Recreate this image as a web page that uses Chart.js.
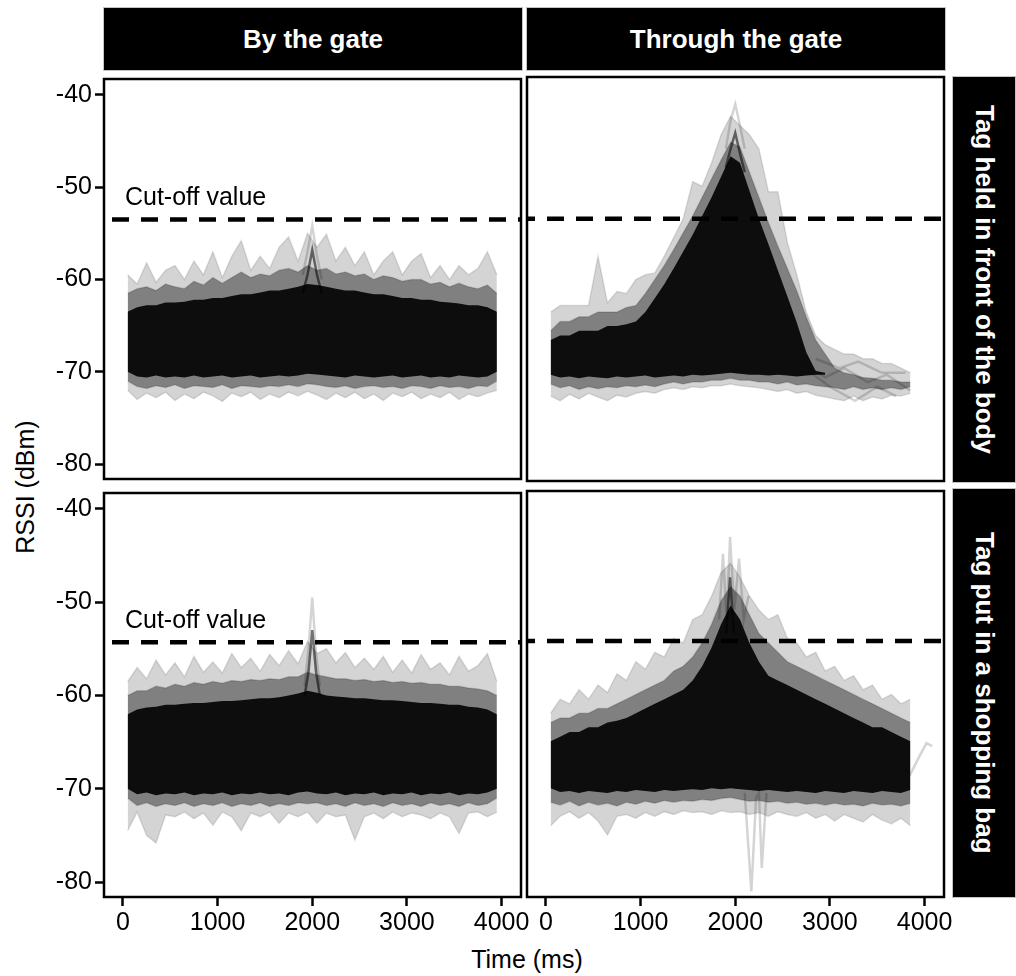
<!DOCTYPE html>
<html><head><meta charset="utf-8">
<script src="https://cdn.jsdelivr.net/npm/chart.js@4.4.1/dist/chart.umd.min.js"></script>
<style>
html,body{margin:0;padding:0;background:#fff;}
body{width:1016px;height:976px;position:relative;overflow:hidden;font-family:"Liberation Sans",Arial,sans-serif;}
canvas{position:absolute;}
.strip{position:absolute;background:#000;color:#fff;font-weight:bold;font-size:26px;display:flex;align-items:center;justify-content:center;box-sizing:border-box;border:1px solid #c4c4c4;white-space:nowrap;}
.vert{writing-mode:vertical-rl;}
.title{position:absolute;font-size:25px;color:#000;white-space:nowrap;transform:translate(-50%,-50%);}
</style></head><body>
<div class="strip" style="left:103px;top:7px;width:420px;height:64px;" id="c0"></div>
<div class="strip" style="left:526px;top:7px;width:420px;height:64px;" id="c1"></div>
<div class="strip" style="left:952px;top:76px;width:64px;height:407px;"><span class="vert" id="r0"></span></div>
<div class="strip" style="left:952px;top:488px;width:64px;height:410px;"><span class="vert" id="r1"></span></div>
<div class="title" id="ytitle" style="left:25px;top:487px;writing-mode:vertical-rl;transform:translate(-50%,-50%) rotate(180deg);"></div>
<div class="title" id="xtitle" style="left:527px;top:959px;"></div>
<canvas id="tl" width="536" height="436" style="left:0;top:61px"></canvas>
<canvas id="tr" width="452" height="436" style="left:512px;top:61px"></canvas>
<canvas id="bl" width="536" height="469" style="left:0;top:475px"></canvas>
<canvas id="br" width="452" height="469" style="left:512px;top:475px"></canvas>
<script>
// ---------- labels ----------
const COLS = ['By the gate', 'Through the gate'];
const ROWS = ['Tag held in front of the body', 'Tag put in a shopping bag'];
const X_TITLE = 'Time (ms)';
const Y_TITLE = 'RSSI (dBm)';
const CUTOFF_LABEL = 'Cut-off value';
const X_TICKS = [0, 1000, 2000, 3000, 4000];
const Y_TICKS = [-80, -70, -60, -50, -40];
const X_MIN = -200, X_MAX = 4205, Y_MIN = -81.6, Y_MAX = -38.3;
const CUTOFF = [-53.5, -54.3];

// ---------- time grid of the envelopes (ms) ----------
const TIME = [50,150,250,350,450,550,650,750,850,950,1050,1150,1250,1350,1450,1550,1650,1750,1850,1950,2050,2150,2250,2350,2450,2550,2650,2750,2850,2950,3050,3150,3250,3350,3450,3550,3650,3750,3850,3950];

// ---------- By the gate / held in front of the body ----------
const TL_lightTop = [-59.5,-60.5,-58.2,-60.3,-59,-58.5,-60,-58,-59.5,-57,-59.8,-57.5,-55.8,-59,-57.5,-58.8,-56.5,-55.4,-58,-55,-56.5,-55.1,-58,-56.5,-58.5,-57,-59.5,-58,-57,-59.5,-58,-57.2,-59.8,-58.5,-60,-58.5,-59.5,-58.8,-57,-59.5];
const TL_midTop = [-61.5,-61,-60.8,-61.2,-60.5,-60.8,-61,-60.2,-60.6,-59.8,-60.4,-59.8,-59.2,-59.8,-59.4,-59.6,-59,-58.8,-59.2,-58.5,-59,-58.8,-59.4,-59.2,-59.6,-59.4,-60,-59.6,-59.8,-60.2,-60,-60,-60.5,-60.3,-60.8,-60.4,-60.8,-61,-60.6,-61.5];
const TL_coreTop = [-63.5,-63,-62.8,-62.8,-62.5,-62.5,-62.4,-62.2,-62.2,-62,-62,-61.8,-61.6,-61.6,-61.4,-61.2,-61.2,-61,-60.8,-60.5,-60.6,-60.8,-61,-61.2,-61.2,-61.4,-61.6,-61.6,-61.8,-62,-62,-62.2,-62.2,-62.4,-62.5,-62.6,-62.8,-62.8,-63,-63.5];
const TL_coreBot = [-70,-70.5,-70.6,-70.4,-70.6,-70.5,-70.6,-70.4,-70.6,-70.5,-70.4,-70.6,-70.5,-70.4,-70.6,-70.5,-70.4,-70.5,-70.4,-70.2,-70.3,-70.4,-70.5,-70.6,-70.4,-70.5,-70.6,-70.5,-70.4,-70.6,-70.5,-70.4,-70.6,-70.5,-70.6,-70.4,-70.5,-70.6,-70.5,-70];
const TL_midBot = [-71,-71.6,-71.8,-71.5,-71.7,-71.4,-71.8,-71.5,-71.6,-71.7,-71.4,-71.8,-71.5,-71.6,-71.7,-71.5,-71.6,-71.4,-71.6,-71.3,-71.4,-71.6,-71.7,-71.5,-71.8,-71.6,-71.5,-71.7,-71.6,-71.8,-71.5,-71.6,-71.8,-71.5,-71.7,-71.6,-71.8,-71.5,-71.6,-71];
const TL_lightBot = [-72,-73,-72.3,-72.8,-72.2,-73.1,-72.4,-72.9,-72.2,-72.6,-73.2,-72.3,-72.7,-72.2,-73,-72.4,-72.8,-72.2,-72.6,-72.1,-72.5,-73,-72.3,-72.8,-72.2,-72.9,-72.4,-73.1,-72.3,-72.7,-72.2,-72.9,-72.4,-72.8,-72.2,-73,-72.4,-72.7,-72.3,-72];
const TL_SPIKE_T = [1900, 1950, 2000, 2050, 2100];
const TL_SPIKE_LIGHT = [-59.5, -57, -54.2, -57.5, -60];
const TL_SPIKE_DARK = [-61.5, -59.5, -56.8, -59.5, -61.5];

// ---------- Through the gate / held in front of the body ----------
const TR_lightTop = [-63.5,-62.8,-62.8,-62.8,-62.8,-57.5,-62.5,-61.3,-61.5,-60,-59.5,-59.3,-57.5,-55.5,-53.5,-49.5,-50,-47.5,-44.5,-42.5,-43.5,-44.5,-46,-50.6,-50.6,-56,-59.5,-63.5,-66,-67,-67.5,-68,-68,-68.5,-68.5,-69,-69,-69.5,-70,null];
const TR_midTop = [-65.5,-64.5,-64.5,-64,-64,-63.5,-63.5,-63.5,-63,-62.8,-61.5,-60,-58.5,-56.8,-55,-53.2,-51.2,-49.2,-47.2,-45.3,-45.8,-48.5,-51.2,-53.9,-56.4,-58.8,-61.2,-64,-66.5,-68,-69.5,-70,-70.2,-70.5,-70.6,-70.8,-70.8,-71,-71,null];
const TR_coreTop = [-66.5,-66,-66,-65.5,-65.5,-65.5,-65,-65,-64.8,-64.5,-63.5,-62,-60.5,-58.8,-57,-55.2,-53.2,-51.2,-49,-46.8,-47.5,-50.5,-53.5,-56.2,-59,-61.8,-64.6,-67.8,-69.8,-70,null,null,null,null,null,null,null,null,null,null];
const TR_coreBot = [-70.2,-70.5,-70.4,-70.6,-70.4,-70.5,-70.6,-70.4,-70.5,-70.4,-70.3,-70.5,-70.4,-70.3,-70.4,-70.2,-70.3,-70.2,-70.1,-70,-70.1,-70.2,-70.2,-70.3,-70.2,-70.3,-70.4,-70.3,-70.2,-70.2,null,null,null,null,null,null,null,null,null,null];
const TR_midBot = [-71.2,-71.6,-71.4,-71.8,-71.5,-71.7,-71.5,-71.6,-71.4,-71.5,-71.3,-71.5,-71.2,-71,-71.2,-71,-71,-70.8,-70.8,-70.6,-70.8,-70.8,-71,-71,-71.2,-71,-71.3,-71.2,-71.4,-71.5,-71.6,-71.8,-71.5,-71.8,-71.6,-71.8,-71.6,-71.8,-71.5,null];
const TR_lightBot = [-72.5,-73,-72.3,-72.8,-72.2,-72.6,-73,-72.4,-72.6,-72.2,-72,-72.2,-71.8,-71.6,-71.8,-71.5,-71.6,-71.4,-71.4,-71.2,-71.4,-71.5,-71.6,-71.8,-72,-71.8,-72.2,-72,-72.4,-72.6,-72.8,-73,-72.5,-73,-72.6,-72.8,-72.4,-72.5,-72.2,null];
const TR_PEAK_T = [1900, 1950, 2000, 2050, 2100];
const TR_PEAK_LIGHT = [-46, -43, -41.2, -43.5, -46];
const TR_PEAK_DARK = [-48, -46, -44.3, -46.5, -48.5];
const TR_TAIL1_T = [2700, 2950, 3150, 3400, 3600, 3850];
const TR_TAIL1_V = [-69, -70.5, -69.5, -71, -70.2, -71.9];
const TR_TAIL2_T = [2800, 3000, 3265, 3500, 3700];
const TR_TAIL2_V = [-70, -71.5, -73, -71.5, -72.5];
const TR_TAIL3_T = [2850, 3100, 3300, 3550, 3800];
const TR_TAIL3_V = [-68.5, -69.5, -68.8, -70, -70];

// ---------- By the gate / shopping bag ----------
const BL_lightTop = [-58.5,-57,-58.2,-56.2,-57.8,-56.5,-58,-55.8,-57.5,-56.4,-57.6,-55.5,-57,-56,-57.4,-55.6,-56.8,-55.2,-56.6,-54.2,-55.5,-55,-56.5,-55.4,-57,-56,-57.2,-55.8,-57.5,-56.2,-57.6,-55.6,-57.2,-56.5,-57.8,-55.8,-57.4,-56.8,-55.5,-58.5];
const BL_midTop = [-60,-59.5,-59.5,-59,-59.2,-58.8,-59,-58.6,-58.8,-58.5,-58.7,-58.4,-58.5,-58.3,-58.4,-58.2,-58.3,-58,-58,-57.5,-57.8,-58,-58.2,-58.2,-58.4,-58.3,-58.5,-58.4,-58.6,-58.5,-58.7,-58.6,-58.8,-58.8,-59,-59,-59.2,-59.3,-59.5,-60];
const BL_coreTop = [-62,-61.5,-61.3,-61.2,-61,-61,-60.9,-60.8,-60.8,-60.7,-60.6,-60.6,-60.5,-60.4,-60.3,-60.3,-60.2,-60,-59.8,-59.5,-59.7,-60,-60.1,-60.2,-60.3,-60.3,-60.4,-60.5,-60.5,-60.6,-60.7,-60.8,-60.8,-60.9,-61,-61,-61.2,-61.3,-61.5,-62];
const BL_coreBot = [-70,-70.6,-70.4,-70.7,-70.5,-70.6,-70.4,-70.7,-70.5,-70.6,-70.4,-70.7,-70.5,-70.6,-70.4,-70.6,-70.5,-70.7,-70.4,-70.3,-70.5,-70.6,-70.4,-70.7,-70.5,-70.6,-70.4,-70.7,-70.5,-70.6,-70.4,-70.7,-70.5,-70.6,-70.4,-70.7,-70.5,-70.6,-70.4,-70];
const BL_midBot = [-71,-71.8,-71.5,-71.9,-71.6,-71.8,-71.5,-71.9,-71.6,-71.8,-71.5,-71.9,-71.6,-71.8,-71.5,-71.9,-71.6,-71.8,-71.5,-71.6,-71.5,-71.8,-71.6,-71.9,-71.5,-71.8,-71.6,-71.9,-71.5,-71.8,-71.6,-71.9,-71.5,-71.8,-71.6,-71.9,-71.5,-71.8,-71.6,-71];
const BL_lightBot = [-74.5,-72.5,-75,-75.8,-72.8,-73,-72.5,-73.2,-72.6,-73.9,-72.5,-73,-74.5,-72.6,-73,-72.5,-73.7,-72.6,-73,-72.5,-73.7,-72.6,-73,-72.8,-75.5,-73,-72.6,-73.2,-72.5,-73,-72.6,-72.8,-73.2,-72.6,-73,-74.8,-72.6,-72.5,-73,-72.5];
const BL_SPIKE_T = [1920, 1960, 2000, 2040, 2080];
const BL_SPIKE_LIGHT = [-59, -55, -49.5, -55.5, -59];
const BL_SPIKE_DARK = [-60, -57.5, -53, -57.5, -60];

// ---------- Through the gate / shopping bag ----------
const BR_lightTop = [-62,-60.5,-61,-59.5,-60.5,-59,-59.8,-57.8,-58.5,-56.5,-57.3,-55.5,-56,-54,-54.5,-52,-51.5,-49.5,-47,-46,-47.5,-49.5,-51,-52,-51.5,-54,-54.5,-56,-55.5,-57.5,-57,-58.5,-58,-59.5,-59,-60.5,-60,-61,-60.5,null];
const BR_midTop = [-63,-62.5,-62.5,-62,-62,-61.5,-61.5,-61,-60.5,-60,-59.5,-59,-58.5,-57.5,-57,-56,-54.5,-52.5,-50,-48.5,-49.5,-51.5,-53.5,-54.5,-55.5,-56.5,-57,-57.5,-58,-58.5,-59,-59.5,-60,-60.5,-61,-61.5,-62,-62.5,-63,null];
const BR_coreTop = [-65,-64.5,-64,-64,-63.5,-63.5,-63,-62.8,-62.5,-62,-61.5,-61,-60.5,-60,-59.5,-58.5,-57,-55,-52.5,-50.5,-52,-54.5,-56.5,-58,-58.5,-59,-59.5,-60,-60.5,-61,-61.5,-62,-62.5,-63,-63.5,-63.5,-64,-64.5,-65,null];
const BR_coreBot = [-70,-70.4,-70.3,-70.5,-70.3,-70.4,-70.5,-70.3,-70.4,-70.2,-70.3,-70.4,-70.2,-70.3,-70.2,-70.1,-70.2,-70,-70.1,-70,-70.1,-70.2,-70.3,-70.2,-70.3,-70.4,-70.3,-70.4,-70.5,-70.3,-70.4,-70.5,-70.3,-70.4,-70.5,-70.3,-70.4,-70.5,-70.2,null];
const BR_midBot = [-71.5,-71.8,-71.4,-71.9,-71.5,-71.8,-71.6,-71.9,-71.5,-71.7,-71.4,-71.6,-71.3,-71.5,-71.3,-71.4,-71.2,-71.3,-71.1,-71,-71.2,-71.4,-71.3,-71.5,-71.4,-71.6,-71.5,-71.7,-71.6,-71.8,-71.6,-71.8,-71.7,-71.9,-71.6,-71.8,-71.7,-71.9,-71.6,null];
const BR_lightBot = [-74,-73,-72.5,-73.2,-72.6,-73.5,-75,-73,-72.8,-73.2,-72.6,-73,-72.5,-72.8,-72.4,-72.6,-72.5,-72.8,-72.4,-72.6,-72.5,-72.8,-72.6,-73,-72.5,-72.8,-73,-72.6,-73.2,-72.8,-73.5,-72.8,-73.2,-73.6,-72.8,-73.4,-73.8,-73.2,-74,null];
const BR_PEAK_T = [1830, 1870, 1910, 1945, 1990, 2040, 2090, 2140];
const BR_PEAK_LIGHT = [-52, -45, -52, -43.2, -51, -45.5, -52, -49.5];
const BR_PEAK_DARK_T = [1905, 1945, 1985];
const BR_PEAK_DARK = [-53.5, -47.5, -53.5];
const BR_DIP_T = [2100, 2170, 2220, 2250, 2280, 2330];
const BR_DIP_V = [-70.5, -81, -71, -70.5, -78.5, -70.5];
const BR_END_T = [3750, 3850, 3950, 4020, 4080];
const BR_END_V = [-67.5, -68.5, -66.5, -65.2, -65.5];

// ---------- build ----------
const FONT = '"Liberation Sans", Arial, sans-serif';
const DASH_OFFSET = [21, 9];

document.getElementById('c0').textContent = COLS[0];
document.getElementById('c1').textContent = COLS[1];
document.getElementById('r0').textContent = ROWS[0];
document.getElementById('r1').textContent = ROWS[1];
document.getElementById('xtitle').textContent = X_TITLE;
document.getElementById('ytitle').textContent = Y_TITLE;

function pts(t, v) { return t.map((x, i) => ({x: x, y: v[i]})); }

const PANELS = [
  {id:'tl', row:0, col:0,
   bands:[[TL_coreTop,TL_coreBot],[TL_midTop,TL_midBot],[TL_lightTop,TL_lightBot]],
   traces:[{t:TL_SPIKE_T,v:TL_SPIKE_LIGHT,dark:false},{t:TL_SPIKE_T,v:TL_SPIKE_DARK,dark:true}]},
  {id:'tr', row:0, col:1,
   bands:[[TR_coreTop,TR_coreBot],[TR_midTop,TR_midBot],[TR_lightTop,TR_lightBot]],
   traces:[{t:TR_PEAK_T,v:TR_PEAK_LIGHT,dark:false},{t:TR_PEAK_T,v:TR_PEAK_DARK,dark:true},
           {t:TR_TAIL1_T,v:TR_TAIL1_V,dark:false},{t:TR_TAIL2_T,v:TR_TAIL2_V,dark:false},{t:TR_TAIL3_T,v:TR_TAIL3_V,dark:false}]},
  {id:'bl', row:1, col:0,
   bands:[[BL_coreTop,BL_coreBot],[BL_midTop,BL_midBot],[BL_lightTop,BL_lightBot]],
   traces:[{t:BL_SPIKE_T,v:BL_SPIKE_LIGHT,dark:false},{t:BL_SPIKE_T,v:BL_SPIKE_DARK,dark:true}]},
  {id:'br', row:1, col:1,
   bands:[[BR_coreTop,BR_coreBot],[BR_midTop,BR_midBot],[BR_lightTop,BR_lightBot]],
   traces:[{t:BR_PEAK_T,v:BR_PEAK_LIGHT,dark:false},{t:BR_PEAK_DARK_T,v:BR_PEAK_DARK,dark:true},
           {t:BR_DIP_T,v:BR_DIP_V,dark:false},{t:BR_END_T,v:BR_END_V,dark:false}]}
];

const BAND_FILL = ['rgba(0,0,0,0.9)', 'rgba(0,0,0,0.4)', 'rgba(0,0,0,0.17)'];
const BAND_EDGE = ['rgba(0,0,0,0)', 'rgba(0,0,0,0.15)', 'rgba(0,0,0,0.12)'];

const panelPlugin = {
  id: 'panel',
  afterDatasetsDraw(chart, args, opts) {
    const ctx = chart.ctx, a = chart.chartArea, s = chart.scales;
    ctx.save();
    if (opts.label) {
      ctx.font = '25px ' + FONT;
      ctx.fillStyle = '#000';
      ctx.textAlign = 'left';
      ctx.textBaseline = 'alphabetic';
      ctx.fillText(opts.label, s.x.getPixelForValue(0) + 2, s.y.getPixelForValue(opts.cutoff) - 14);
    }
    ctx.lineWidth = 2.5;
    ctx.strokeStyle = '#000';
    ctx.strokeRect(a.left, a.top, a.right - a.left, a.bottom - a.top);
    ctx.restore();
  }
};

PANELS.forEach(p => {
  const ds = [];
  ds.push({data: pts([X_MIN, X_MAX], [CUTOFF[p.row], CUTOFF[p.row]]), borderColor:'#000', borderWidth:4.5,
           borderDash:[17,12], borderDashOffset: DASH_OFFSET[p.col], pointRadius:0, fill:false});
  p.traces.forEach(tr => ds.push({data: pts(tr.t, tr.v), borderColor: tr.dark ? 'rgba(0,0,0,0.55)' : 'rgba(0,0,0,0.17)',
           borderWidth: 2.5, pointRadius: 0, fill: false}));
  p.bands.forEach((b, k) => {
    ds.push({data: pts(TIME, b[0]), fill: '+1', backgroundColor: BAND_FILL[k], borderColor: BAND_EDGE[k], borderWidth: 1.5, pointRadius: 0});
    ds.push({data: pts(TIME, b[1]), fill: false, borderColor: BAND_EDGE[k], borderWidth: 1.5, pointRadius: 0});
  });
  const left = p.col === 0;
  const bottom = p.row === 1;
  new Chart(document.getElementById(p.id), {
    type: 'line',
    data: {datasets: ds},
    plugins: [panelPlugin],
    options: {
      responsive: false, animation: false, events: [],
      layout: {padding: {left: left ? 0 : 15, right: left ? 15 : 20, top: 16, bottom: bottom ? 0 : 16}},
      elements: {line: {tension: 0}},
      plugins: {legend: {display: false}, tooltip: {enabled: false},
                panel: {label: left ? CUTOFF_LABEL : null, cutoff: CUTOFF[p.row]}},
      scales: {
        x: {type: 'linear', min: X_MIN, max: X_MAX, display: bottom,
            afterBuildTicks: sc => { sc.ticks = X_TICKS.map(v => ({value: v})); },
            afterFit: sc => { if (bottom) sc.height = 47; },
            ticks: {callback: v => String(v), font: {family: FONT, size: 25}, color: '#000', padding: 2, maxRotation: 0, autoSkip: false},
            grid: {drawOnChartArea: false, drawTicks: true, tickLength: 9, tickWidth: 2.5, tickColor: '#000'},
            border: {display: false}},
        y: {type: 'linear', min: Y_MIN, max: Y_MAX, display: left,
            afterBuildTicks: sc => { sc.ticks = Y_TICKS.map(v => ({value: v})); },
            afterFit: sc => { if (left) sc.width = 104; },
            ticks: {callback: v => String(v), font: {family: FONT, size: 25}, color: '#000', padding: 3, autoSkip: false},
            grid: {drawOnChartArea: false, drawTicks: true, tickLength: 9, tickWidth: 2.5, tickColor: '#000'},
            border: {display: false}}
      }
    }
  });
});
</script>
</body></html>
